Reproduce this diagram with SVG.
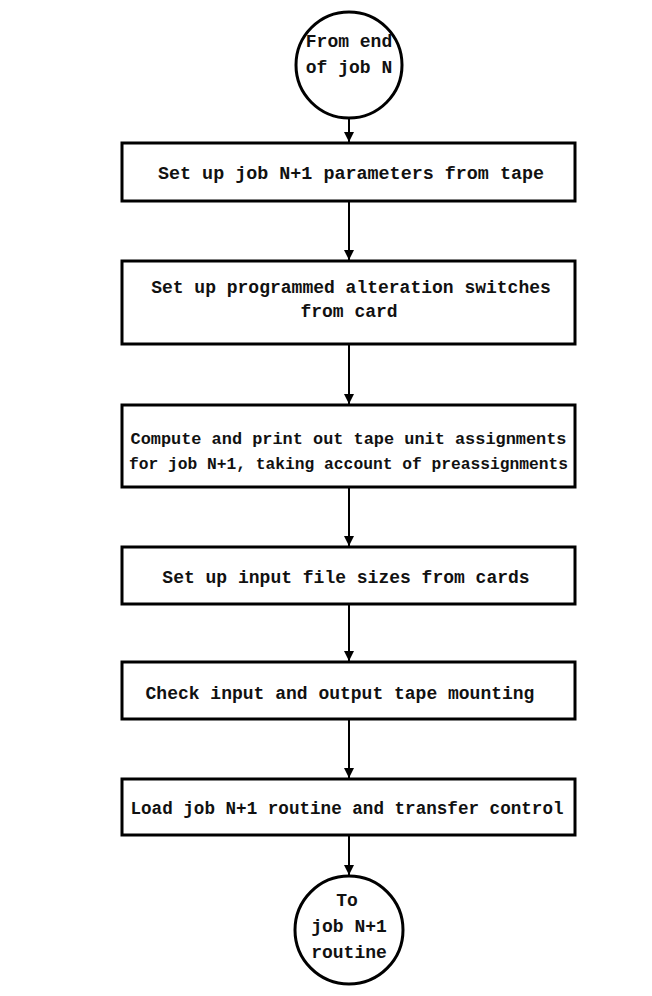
<svg xmlns="http://www.w3.org/2000/svg" width="652" height="996" viewBox="0 0 652 996">
<style>
.box{fill:#fff;stroke:#000;stroke-width:3}
.circ{fill:#fff;stroke:#000;stroke-width:3}
.t{font-family:"Liberation Mono","DejaVu Sans Mono",monospace;font-size:18px;font-weight:bold;fill:#111;text-anchor:middle}
.s{font-size:16.9px}
.c{stroke:#000;stroke-width:2;fill:none;marker-end:url(#ah)}
</style>
<defs>
<marker id="ah" viewBox="0 0 10 10" refX="10" refY="5" markerWidth="5" markerHeight="5" orient="auto" markerUnits="strokeWidth">
<path d="M0,0 L10,5 L0,10 z" fill="#000"/>
</marker>
</defs>
<rect width="652" height="996" fill="#fff"/>
<g id="connectors">
<line class="c" x1="349" y1="119" x2="349" y2="142"/>
<line class="c" x1="349" y1="202" x2="349" y2="260"/>
<line class="c" x1="349" y1="345" x2="349" y2="404"/>
<line class="c" x1="349" y1="488" x2="349" y2="546"/>
<line class="c" x1="349" y1="605" x2="349" y2="661"/>
<line class="c" x1="349" y1="720" x2="349" y2="778"/>
<line class="c" x1="349" y1="836" x2="349" y2="875"/>
</g>
<g id="start">
<circle class="circ" cx="349" cy="65" r="53"/>
<text class="t" x="349" y="47">From end</text>
<text class="t" x="349" y="73">of job N</text>
</g>
<g id="box1">
<rect class="box" x="122" y="143" width="453" height="58"/>
<text class="t" x="351" y="179" textLength="386" lengthAdjust="spacingAndGlyphs">Set up job N+1 parameters from tape</text>
</g>
<g id="box2">
<rect class="box" x="122" y="261" width="453" height="83"/>
<text class="t" x="351" y="293">Set up programmed alteration switches</text>
<text class="t" x="349" y="317">from card</text>
</g>
<g id="box3">
<rect class="box" x="122" y="405" width="453" height="82"/>
<text class="t s" x="348.5" y="444" textLength="436" lengthAdjust="spacingAndGlyphs">Compute and print out tape unit assignments</text>
<text class="t s" x="348.5" y="469" textLength="439" lengthAdjust="spacingAndGlyphs">for job N+1, taking account of preassignments</text>
</g>
<g id="box4">
<rect class="box" x="122" y="547" width="453" height="57"/>
<text class="t" x="346" y="583">Set up input file sizes from cards</text>
</g>
<g id="box5">
<rect class="box" x="122" y="662" width="453" height="57"/>
<text class="t" x="340" y="699">Check input and output tape mounting</text>
</g>
<g id="box6">
<rect class="box" x="122" y="779" width="453" height="56"/>
<text class="t" x="347" y="814" textLength="433" lengthAdjust="spacingAndGlyphs">Load job N+1 routine and transfer control</text>
</g>
<g id="end">
<circle class="circ" cx="349" cy="930" r="54"/>
<text class="t" x="347" y="906">To</text>
<text class="t" x="349" y="932">job N+1</text>
<text class="t" x="349" y="958">routine</text>
</g>
</svg>
